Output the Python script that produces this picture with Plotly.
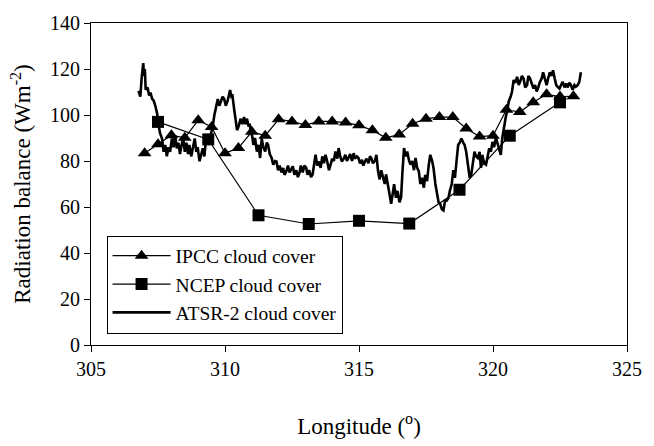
import plotly.graph_objects as go

# IPCC cloud cover scenario (0.5 degree spacing)
IPCC_LON = [307.0, 307.5, 308.0, 308.5, 309.0, 309.5, 310.0, 310.5, 311.0, 311.5,
            312.0, 312.5, 313.0, 313.5, 314.0, 314.5, 315.0, 315.5, 316.0, 316.5,
            317.0, 317.5, 318.0, 318.5, 319.0, 319.5, 320.0, 320.5, 321.0, 321.5,
            322.0, 322.5, 323.0]
IPCC_RB = [83.4, 87.3, 91.2, 90.1, 97.7, 94.8, 83.4, 85.6, 92.7, 91.0,
           98.1, 97.2, 95.6, 97.2, 97.2, 96.7, 95.5, 93.4, 90.1, 91.5,
           96.2, 98.4, 99.1, 99.1, 94.1, 90.6, 91.0, 102.3, 101.3, 105.5,
           109.0, 108.0, 108.1]

# NCEP cloud cover scenario (1.875 degree grid)
NCEP_LON = [307.5, 309.375, 311.25, 313.125, 315.0, 316.875, 318.75, 320.625, 322.5]
NCEP_RB = [97.0, 89.4, 56.4, 52.6, 54.0, 52.8, 67.5, 91.0, 105.5]

# ATSR-2 derived cloud cover
ATSR_LON = [306.77, 306.84, 306.89, 306.93, 306.95, 306.98, 307.01, 307.04, 307.11, 307.17,
            307.22, 307.28, 307.34, 307.40, 307.47, 307.52, 307.58, 307.65, 307.71, 307.77,
            307.83, 307.89, 307.95, 308.02, 308.08, 308.14, 308.20, 308.26, 308.32, 308.38,
            308.44, 308.50, 308.56, 308.62, 308.67, 308.74, 308.80, 308.87, 308.93, 308.98,
            309.05, 309.11, 309.17, 309.23, 309.28, 309.35, 309.41, 309.48, 309.55, 309.60,
            309.67, 309.73, 309.79, 309.84, 309.91, 309.97, 310.03, 310.10, 310.15, 310.19,
            310.24, 310.28, 310.34, 310.40, 310.45, 310.52, 310.58, 310.65, 310.71, 310.76,
            310.82, 310.88, 310.92, 310.97, 311.01, 311.06, 311.12, 311.19, 311.25, 311.31,
            311.37, 311.43, 311.50, 311.56, 311.61, 311.67, 311.74, 311.80, 311.87, 311.92,
            311.98, 312.04, 312.11, 312.17, 312.22, 312.29, 312.35, 312.41, 312.48, 312.53,
            312.59, 312.66, 312.72, 312.78, 312.83, 312.90, 312.96, 313.03, 313.08, 313.14,
            313.21, 313.27, 313.33, 313.38, 313.44, 313.51, 313.57, 313.63, 313.69, 313.75,
            313.81, 313.88, 313.94, 314.00, 314.06, 314.12, 314.19, 314.24, 314.30, 314.36,
            314.43, 314.49, 314.55, 314.61, 314.67, 314.74, 314.80, 314.85, 314.92, 314.98,
            315.04, 315.11, 315.16, 315.22, 315.28, 315.35, 315.41, 315.46, 315.52, 315.59,
            315.65, 315.71, 315.77, 315.83, 315.89, 315.96, 316.01, 316.07, 316.14, 316.20,
            316.26, 316.31, 316.38, 316.44, 316.51, 316.57, 316.62, 316.68, 316.74, 316.80,
            316.87, 316.92, 316.99, 317.05, 317.11, 317.17, 317.23, 317.29, 317.35, 317.42,
            317.47, 317.54, 317.60, 317.66, 317.73, 317.78, 317.85, 317.91, 317.97, 318.03,
            318.09, 318.15, 318.21, 318.27, 318.34, 318.39, 318.46, 318.52, 318.58, 318.64,
            318.70, 318.76, 318.82, 318.89, 318.94, 319.00, 319.07, 319.13, 319.19, 319.25,
            319.31, 319.37, 319.43, 319.50, 319.55, 319.60, 319.67, 319.74, 319.80, 319.86,
            319.92, 319.98, 320.04, 320.11, 320.16, 320.23, 320.29, 320.35, 320.40, 320.47,
            320.53, 320.59, 320.66, 320.71, 320.77, 320.83, 320.90, 320.96, 321.01, 321.08,
            321.14, 321.20, 321.27, 321.32, 321.38, 321.45, 321.51, 321.57, 321.63, 321.69,
            321.75, 321.82, 321.87, 321.93, 322.00, 322.06, 322.12, 322.18, 322.24, 322.30,
            322.36, 322.43, 322.48, 322.54, 322.60, 322.67, 322.73, 322.79, 322.85, 322.91,
            322.97, 323.04, 323.09, 323.16, 323.22, 323.28]
ATSR_RB = [110.5, 108.0, 116.0, 119.0, 122.6, 117.0, 120.0, 111.0, 112.0, 108.5,
           109.8, 107.0, 106.2, 104.0, 100.4, 95.5, 92.0, 89.8, 84.0, 87.0,
           82.0, 86.0, 84.0, 89.8, 86.0, 91.0, 85.5, 88.0, 83.0, 87.0,
           89.8, 84.0, 88.0, 83.0, 87.0, 82.0, 86.0, 89.8, 84.0, 86.0,
           79.9, 83.0, 85.5, 82.0, 88.0, 89.8, 87.0, 92.0, 95.5, 99.8,
           103.0, 106.9, 104.0, 105.4, 108.0, 106.9, 104.0, 106.2, 109.0, 110.9,
           108.0, 108.3, 102.6, 98.4, 93.4, 95.5, 98.4, 96.0, 99.1, 96.0,
           98.4, 95.0, 96.2, 92.0, 91.2, 87.0, 90.0, 84.1, 87.0, 81.3,
           89.8, 86.0, 84.1, 88.0, 87.0, 83.0, 81.3, 78.4, 80.0, 79.8,
           76.0, 78.0, 75.0, 77.0, 74.0, 75.6, 78.0, 75.0, 77.0, 77.7,
           74.0, 76.0, 73.0, 74.9, 78.0, 75.0, 78.0, 77.0, 74.0, 76.0,
           73.0, 74.2, 79.0, 82.7, 78.0, 79.8, 77.0, 82.0, 79.0, 82.7,
           80.0, 76.0, 78.4, 81.0, 80.0, 84.1, 81.0, 85.6, 82.0, 79.8,
           81.0, 82.7, 80.0, 81.3, 83.0, 80.0, 83.4, 81.0, 82.0, 81.3,
           79.0, 80.5, 78.0, 79.8, 81.0, 79.0, 82.0, 81.3, 79.0, 80.0,
           82.7, 75.6, 72.0, 76.0, 72.7, 70.0, 74.2, 70.0, 65.6, 61.4,
           66.0, 69.9, 64.0, 67.0, 62.0, 64.2, 75.0, 85.6, 82.0, 84.1,
           80.0, 78.4, 80.0, 76.0, 81.3, 77.0, 75.6, 70.0, 72.7, 68.4,
           74.0, 71.3, 78.0, 82.7, 80.0, 77.0, 70.0, 65.6, 62.0, 61.4,
           59.0, 58.5, 62.7, 62.7, 64.0, 67.0, 70.0, 76.0, 72.7, 80.0,
           87.0, 88.0, 89.8, 88.0, 87.0, 84.0, 78.4, 72.7, 74.2, 80.0,
           84.1, 82.0, 81.3, 84.0, 77.0, 82.7, 79.0, 78.4, 82.0, 85.5,
           84.0, 88.3, 86.0, 90.3, 88.0, 85.5, 82.7, 90.3, 94.5, 98.7,
           102.0, 106.0, 108.0, 110.2, 115.2, 114.0, 116.6, 113.0, 114.4, 117.0,
           115.9, 112.0, 113.0, 117.0, 115.9, 113.0, 111.5, 113.0, 110.2, 112.0,
           114.4, 116.0, 118.6, 116.0, 113.0, 116.0, 118.6, 117.0, 119.4, 116.0,
           113.0, 112.0, 111.5, 113.0, 114.4, 112.0, 113.7, 112.0, 114.0, 113.0,
           111.0, 113.0, 112.3, 113.0, 114.4, 118.6]

X_TICKS = [305, 310, 315, 320, 325]
Y_TICKS = [0, 20, 40, 60, 80, 100, 120, 140]

FONT = "Liberation Serif, Times New Roman, serif"

fig = go.Figure()
fig.add_trace(go.Scatter(
    x=IPCC_LON, y=IPCC_RB, name="IPCC cloud cover", mode="lines+markers",
    line=dict(color="black", width=1.2),
    marker=dict(symbol="triangle-up", size=12, color="black"),
))
fig.add_trace(go.Scatter(
    x=NCEP_LON, y=NCEP_RB, name="NCEP cloud cover", mode="lines+markers",
    line=dict(color="black", width=1.2),
    marker=dict(symbol="square", size=12, color="black"),
))
fig.add_trace(go.Scatter(
    x=ATSR_LON, y=ATSR_RB, name="ATSR-2 cloud cover", mode="lines",
    line=dict(color="black", width=2.6),
))

axis_common = dict(
    showline=True, linecolor="black", linewidth=1, mirror=True,
    ticks="outside", ticklen=6, tickcolor="black", tickwidth=1,
    showgrid=False, zeroline=False,
    tickfont=dict(family=FONT, size=20, color="black"),
)

fig.update_xaxes(range=[305, 325], tickvals=X_TICKS, ticktext=[str(v) for v in X_TICKS],
                 title=dict(text="Longitude (<sup>o</sup>)", standoff=38,
                            font=dict(family=FONT, size=23, color="black")),
                 **axis_common)
fig.update_yaxes(range=[0, 140], tickvals=Y_TICKS, ticktext=[str(v) for v in Y_TICKS],
                 title=dict(text="Radiation balance (Wm<sup>-2</sup>)", standoff=12,
                            font=dict(family=FONT, size=23, color="black")),
                 **axis_common)

fig.update_layout(
    width=654, height=446,
    margin=dict(l=91, r=17, t=22, b=95),
    paper_bgcolor="white", plot_bgcolor="white",
    font=dict(family=FONT, color="black"),
    legend=dict(
        x=0.029, y=0.34, xanchor="left", yanchor="top",
        bgcolor="white", bordercolor="black", borderwidth=1,
        font=dict(family=FONT, size=19.5, color="black"),
        itemwidth=58, tracegroupgap=0,
    ),
)

fig.write_html("out.html")
